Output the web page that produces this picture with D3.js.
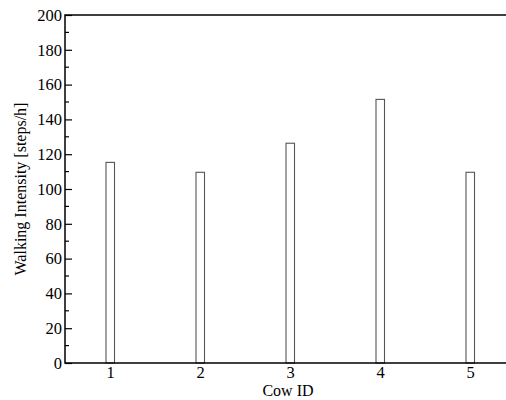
<!DOCTYPE html>
<html lang="en">
<head>
<meta charset="UTF-8"/>
<script src="https://d3js.org/d3.v7.min.js"></script>
<style>
  body { margin: 0; background: #fff; }
  text { font-family: "Liberation Serif", "Times New Roman", serif; fill: #000; }
</style>
</head>
<body>
<svg width="506" height="400"></svg>
<script>
// data
var cows = [1, 2, 3, 4, 5];
var intensity = [115.3, 109.6, 126.3, 151.5, 109.6];
var yTicks = [0, 20, 40, 60, 80, 100, 120, 140, 160, 180, 200];

var svg = d3.select("svg");
var pLeft = 65, pTop = 15, pBottom = 363, pRight = 515;

var x = d3.scaleLinear().domain([0.5, 5.5]).range([pLeft, pRight]);
var y = d3.scaleLinear().domain([0, 200]).range([pBottom, pTop]);

// bars
svg.selectAll("rect.bar")
  .data(cows)
  .enter()
  .append("rect")
  .attr("class", "bar")
  .attr("x", function(d){ return x(d) - 4; })
  .attr("width", 8.5)
  .attr("y", function(d, i){ return y(intensity[i]); })
  .attr("height", function(d, i){ return pBottom - y(intensity[i]); })
  .attr("fill", "#fff")
  .attr("stroke", "#555")
  .attr("stroke-width", 1.1);

// y axis, ticks pointing inwards
var yAxis = d3.axisLeft(y).tickValues(yTicks).tickSize(-7).tickPadding(10);
var gy = svg.append("g").attr("transform", "translate(" + pLeft + ",0)").call(yAxis);
gy.select(".domain").remove();
gy.selectAll(".tick line").attr("stroke", "#000").attr("stroke-width", 1.2);
gy.selectAll(".tick text").style("font-size", "16.5px")
  .style("font-family", "'Liberation Serif', serif").attr("x", -3);

// minor ticks
svg.selectAll("line.minor")
  .data(d3.range(10, 200, 20))
  .enter()
  .append("line")
  .attr("x1", pLeft).attr("x2", pLeft + 4)
  .attr("y1", function(d){ return y(d); })
  .attr("y2", function(d){ return y(d); })
  .attr("stroke", "#000").attr("stroke-width", 1.2);

// x axis labels, no ticks
var xAxis = d3.axisBottom(x).tickValues(cows).tickSize(0).tickPadding(3).tickFormat(d3.format("d"));
var gx = svg.append("g").attr("transform", "translate(0," + pBottom + ")").call(xAxis);
gx.select(".domain").remove();
gx.selectAll(".tick text").style("font-size", "16.5px")
  .style("font-family", "'Liberation Serif', serif");

// frame: left, bottom, top
svg.append("path")
  .attr("d", "M" + pRight + "," + pTop + "H" + pLeft + "V" + pBottom + "H" + pRight)
  .attr("fill", "none").attr("stroke", "#000").attr("stroke-width", 1.5);

// titles
svg.append("text")
  .attr("x", 288).attr("y", 396)
  .attr("text-anchor", "middle").style("font-size", "16px")
  .text("Cow ID");

svg.append("text")
  .attr("transform", "translate(26," + (pTop + pBottom) / 2 + ") rotate(-90)")
  .attr("text-anchor", "middle").style("font-size", "16px")
  .text("Walking Intensity [steps/h]");
</script>
</body>
</html>
